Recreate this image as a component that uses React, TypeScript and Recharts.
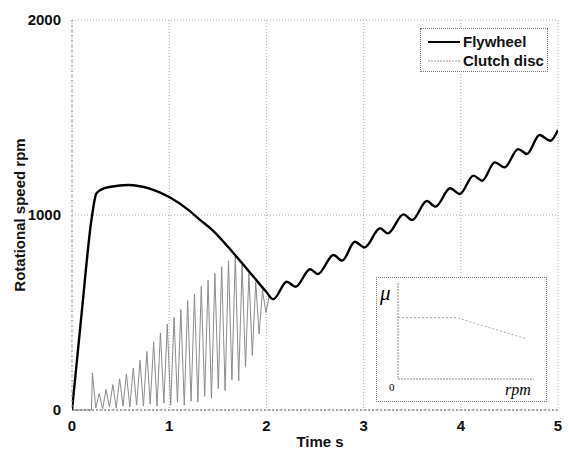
import { LineChart, Line, XAxis, YAxis, CartesianGrid, Legend } from 'recharts';

const timeTicks = [0, 1, 2, 3, 4, 5];
const speedTicks = [0, 1000, 2000];
const seriesNames = ['Flywheel', 'Clutch disc'];

// flywheel: spin-up, slow decay while clutch slips, then oscillating rise
const flywheelTime = [
  0, 0.1, 0.2, 0.25, 0.3, 0.4, 0.58, 0.8, 1.0, 1.2, 1.32, 1.45, 1.66, 1.87, 2.0, 2.07,
  2.21, 2.3, 2.45, 2.53, 2.69, 2.78, 2.91, 3.01, 3.17, 3.25, 3.41, 3.5, 3.65, 3.74,
  3.89, 3.99, 4.13, 4.22, 4.35, 4.45, 4.59, 4.68, 4.81, 4.92, 5.0,
];
const flywheelSpeed = [
  0, 500, 975, 1110, 1130, 1145, 1154, 1135, 1092, 1025, 974, 920, 805, 682, 605, 568,
  658, 632, 722, 697, 795, 766, 863, 834, 932, 906, 1003, 974, 1072, 1043,
  1137, 1108, 1202, 1176, 1270, 1244, 1338, 1313, 1410, 1381, 1436,
];

// clutch disc: stick-slip chatter until lock-up at ~2.07 s
const clutchTime = [
  0, 0.2, 0.21, 0.245, 0.28, 0.315, 0.35, 0.385, 0.42, 0.455, 0.49, 0.525, 0.56, 0.595,
  0.63, 0.665, 0.7, 0.735, 0.77, 0.805, 0.84, 0.875, 0.91, 0.945, 0.98, 1.015, 1.05,
  1.085, 1.12, 1.155, 1.19, 1.225, 1.26, 1.295, 1.33, 1.365, 1.4, 1.435, 1.47, 1.505,
  1.54, 1.575, 1.61, 1.645, 1.68, 1.715, 1.75, 1.785, 1.82, 1.855, 1.89, 1.925, 1.96,
  1.995, 2.03, 2.07,
];
const clutchSpeed = [
  0, 0, 190, 10, 85, 5, 105, 15, 130, 10, 160, 20, 185, 15,
  215, 25, 255, 20, 300, 30, 350, 20, 395, 35, 440, 25, 475,
  40, 515, 25, 560, 45, 595, 40, 635, 70, 665, 60, 700, 110,
  735, 100, 765, 155, 792, 150, 745, 220, 700, 280, 655, 390, 615,
  500, 585, 568,
];

// inset: friction coefficient vs slip speed
const frictionRpm = [0, 0.43, 0.94];
const frictionMu = [0.64, 0.64, 0.42];

const flywheelData = flywheelTime.map((t, i) => ({ t, v: flywheelSpeed[i] }));
const clutchData = clutchTime.map((t, i) => ({ t, v: clutchSpeed[i] }));
const frictionData = frictionRpm.map((r, i) => ({ r, mu: frictionMu[i] }));

const font = '"Liberation Sans", Arial, sans-serif';
const serif = '"Liberation Serif", "Times New Roman", serif';
const tickStyle = { fontSize: 15, fontWeight: 700, fill: '#111', fontFamily: font };

const LegendBox = () => (
  <div
    style={{
      width: 128,
      height: 44,
      boxSizing: 'border-box',
      border: '1px dotted #777',
      background: '#fff',
      paddingTop: 3,
      fontFamily: font,
      fontWeight: 700,
      fontSize: 15,
      color: '#111',
    }}
  >
    {seriesNames.map((name, i) => (
      <div key={name} style={{ display: 'flex', alignItems: 'center', height: 19 }}>
        <svg width={42} height={10} style={{ flex: 'none' }}>
          <line
            x1={7}
            x2={39}
            y1={5}
            y2={5}
            stroke={i === 0 ? '#000' : '#999'}
            strokeWidth={i === 0 ? 2 : 1}
            strokeDasharray={i === 0 ? undefined : '2 1'}
          />
        </svg>
        <span>{name}</span>
      </div>
    ))}
  </div>
);

export default function App() {
  return (
    <div style={{ position: 'fixed', left: 0, top: 0, width: 569, height: 450, background: '#fff' }}>
      <LineChart width={569} height={450} margin={{ top: 20, right: 11, bottom: 0, left: 0 }}>
        <CartesianGrid stroke="#aaa" strokeDasharray="1 2" />
        <XAxis
          type="number"
          dataKey="t"
          domain={[0, 5]}
          ticks={timeTicks}
          allowDataOverflow
          height={40}
          tickLine={false}
          axisLine={{ stroke: '#666', strokeDasharray: '2 2' }}
          tickMargin={4}
          tick={tickStyle}
          label={{ value: 'Time s', position: 'insideBottom', offset: 3, dx: 5, style: tickStyle }}
        />
        <YAxis
          type="number"
          domain={[0, 2000]}
          ticks={speedTicks}
          width={72}
          tickLine={false}
          axisLine={{ stroke: '#999', strokeDasharray: '2 3' }}
          tickMargin={5}
          tick={tickStyle}
          label={{
            value: 'Rotational speed rpm',
            angle: -90,
            position: 'insideLeft',
            offset: 20,
            style: { ...tickStyle, textAnchor: 'middle' },
          }}
        />
        <Legend
          layout="vertical"
          align="center"
          verticalAlign="middle"
          wrapperStyle={{ left: 420, top: 28, width: 128, height: 44 }}
          content={() => <LegendBox />}
        />
        <Line
          data={clutchData}
          dataKey="v"
          name={seriesNames[1]}
          type="linear"
          stroke="#8c8c8c"
          strokeWidth={1}
          dot={false}
          isAnimationActive={false}
        />
        <Line
          data={flywheelData}
          dataKey="v"
          name={seriesNames[0]}
          type="monotone"
          stroke="#000"
          strokeWidth={2.4}
          dot={false}
          isAnimationActive={false}
        />
      </LineChart>

      <div
        style={{
          position: 'absolute',
          left: 376,
          top: 277,
          width: 171,
          height: 125,
          boxSizing: 'border-box',
          border: '1px dotted #777',
          background: '#fff',
        }}
      >
        <LineChart width={169} height={123} margin={{ top: 5, right: 12, bottom: 21, left: 20 }}>
          <XAxis
            type="number"
            dataKey="r"
            domain={[0, 1]}
            height={1}
            tick={false}
            tickLine={false}
            axisLine={{ stroke: '#888', strokeDasharray: '2 1' }}
          />
          <YAxis
            type="number"
            domain={[0, 1]}
            width={1}
            tick={false}
            tickLine={false}
            axisLine={{ stroke: '#888', strokeDasharray: '2 1' }}
          />
          <Line
            data={frictionData}
            dataKey="mu"
            type="linear"
            stroke="#aaa"
            strokeWidth={1}
            strokeDasharray="2 2"
            dot={false}
            isAnimationActive={false}
          />
        </LineChart>
        <span
          style={{
            position: 'absolute',
            left: 3,
            top: 5,
            fontFamily: serif,
            fontStyle: 'italic',
            fontSize: 21,
            lineHeight: '21px',
          }}
        >
          μ
        </span>
        <span
          style={{
            position: 'absolute',
            left: 12,
            top: 103,
            fontFamily: serif,
            fontSize: 11,
            lineHeight: '12px',
          }}
        >
          0
        </span>
        <span
          style={{
            position: 'absolute',
            left: 128,
            top: 104,
            fontFamily: serif,
            fontStyle: 'italic',
            fontSize: 16,
            lineHeight: '16px',
          }}
        >
          rpm
        </span>
      </div>
    </div>
  );
}
